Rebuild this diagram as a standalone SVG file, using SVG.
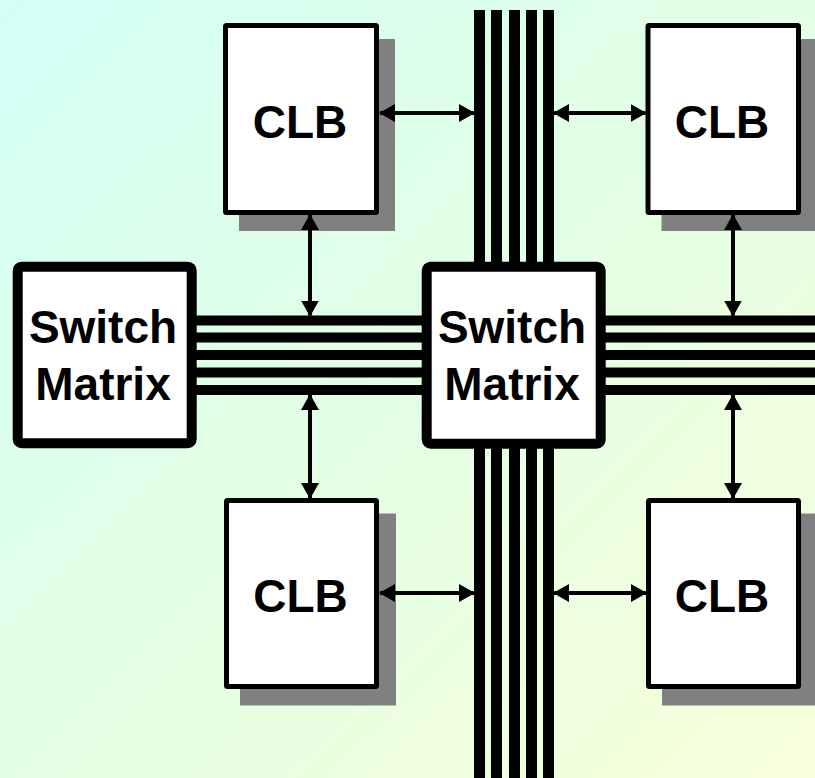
<svg xmlns="http://www.w3.org/2000/svg" width="815" height="778" viewBox="0 0 815 778">
  <defs>
    <linearGradient id="bg" x1="0" y1="0" x2="1" y2="1">
      <stop offset="0" stop-color="#d2fff6"/>
      <stop offset="0.5" stop-color="#e3ffe4"/>
      <stop offset="1" stop-color="#f8ffda"/>
    </linearGradient>
    <marker id="ah" viewBox="0 0 16 18" refX="15" refY="9" markerWidth="16" markerHeight="18" markerUnits="userSpaceOnUse" orient="auto-start-reverse">
      <path d="M0,0 L16,9 L0,18 Z" fill="#000"/>
    </marker>
    <style>
      .clb { fill: #fff; stroke: #000; stroke-width: 5; }
      .shadow { fill: #808080; }
      .sm { fill: #fff; stroke: #000; stroke-width: 10; }
      .bar { fill: #000; }
      .lbl { font-family: "Liberation Sans", Arial, sans-serif; font-weight: bold; font-size: 46px; text-anchor: middle; fill: #000; }
      .arr { stroke: #000; stroke-width: 4; fill: none; marker-start: url(#ah); marker-end: url(#ah); }
    </style>
  </defs>
  <rect x="0" y="0" width="815" height="778" fill="url(#bg)"/>

  <g id="buses">
    <g id="vbus">
      <rect class="bar" x="474" y="10" width="11" height="768"/>
      <rect class="bar" x="491" y="10" width="11" height="768"/>
      <rect class="bar" x="509" y="10" width="11" height="768"/>
      <rect class="bar" x="526" y="10" width="11" height="768"/>
      <rect class="bar" x="543" y="10" width="11" height="768"/>
    </g>
    <g id="hbus">
      <rect class="bar" x="190" y="315.5" width="625" height="10"/>
      <rect class="bar" x="190" y="332.5" width="625" height="10"/>
      <rect class="bar" x="190" y="350" width="625" height="10"/>
      <rect class="bar" x="190" y="367.5" width="625" height="10"/>
      <rect class="bar" x="190" y="385" width="625" height="10"/>
    </g>
  </g>

  <g id="sm-left">
    <rect class="sm" x="17.7" y="266.7" width="174" height="176.5" rx="4"/>
    <text class="lbl" x="103" y="343">Switch</text>
    <text class="lbl" x="103" y="400">Matrix</text>
  </g>
  <g id="sm-center">
    <rect class="sm" x="426.7" y="266.7" width="174" height="177" rx="4"/>
    <text class="lbl" x="512" y="343">Switch</text>
    <text class="lbl" x="512" y="400">Matrix</text>
  </g>

  <g id="clb-tl">
    <rect class="shadow" x="239" y="39" width="156" height="192"/>
    <rect class="clb" x="225.5" y="25.5" width="151" height="187" rx="1"/>
    <text class="lbl" x="300" y="138">CLB</text>
  </g>
  <g id="clb-tr">
    <rect class="shadow" x="661.5" y="39" width="156" height="192"/>
    <rect class="clb" x="648" y="25.5" width="150.5" height="187" rx="1"/>
    <text class="lbl" x="722" y="138">CLB</text>
  </g>
  <g id="clb-bl">
    <rect class="shadow" x="240" y="513.5" width="156" height="192"/>
    <rect class="clb" x="226.5" y="500.5" width="150" height="186" rx="1"/>
    <text class="lbl" x="300.5" y="611.5">CLB</text>
  </g>
  <g id="clb-br">
    <rect class="shadow" x="662" y="513.5" width="156" height="192"/>
    <rect class="clb" x="648.5" y="500.5" width="150" height="186" rx="1"/>
    <text class="lbl" x="722" y="611.5">CLB</text>
  </g>

  <g id="connectors">
    <line class="arr" x1="380" y1="113" x2="474" y2="113"/>
    <line class="arr" x1="554" y1="113" x2="645.5" y2="113"/>
    <line class="arr" x1="380" y1="593" x2="474" y2="593"/>
    <line class="arr" x1="554" y1="593" x2="646" y2="593"/>
    <line class="arr" x1="310" y1="215" x2="310" y2="315.5"/>
    <line class="arr" x1="310" y1="395" x2="310" y2="498"/>
    <line class="arr" x1="733" y1="215" x2="733" y2="315.5"/>
    <line class="arr" x1="733" y1="395" x2="733" y2="498"/>
  </g>
</svg>
